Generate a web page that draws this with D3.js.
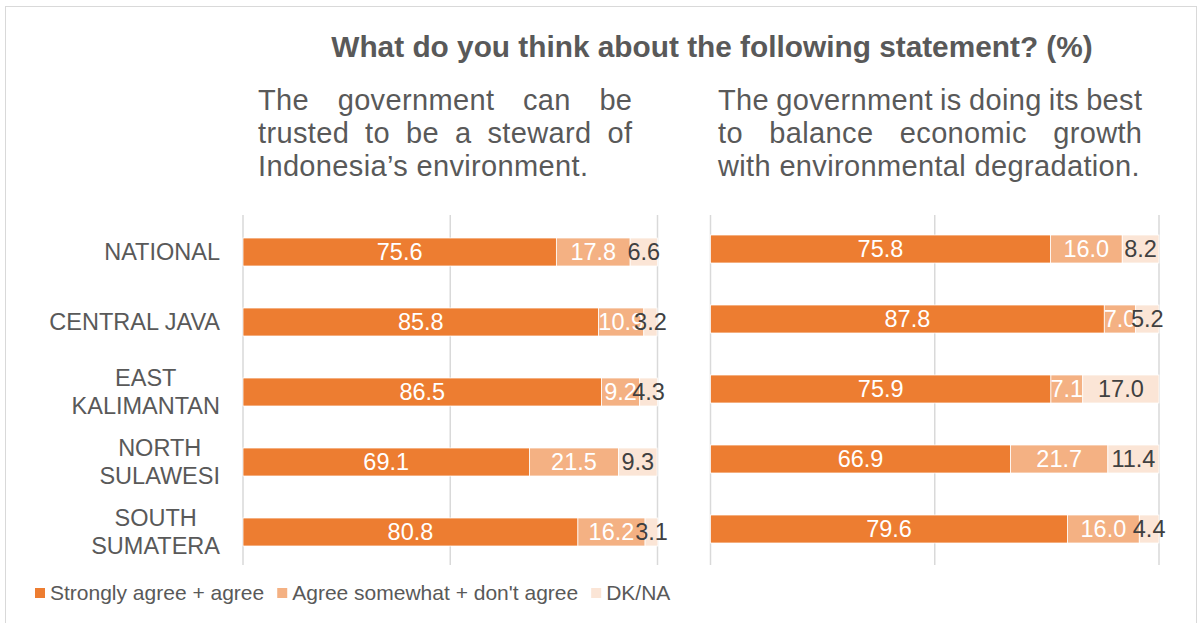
<!DOCTYPE html>
<html><head><meta charset="utf-8">
<script src="https://cdn.jsdelivr.net/npm/d3@7"></script>
<style>body{margin:0;background:#fff} svg{display:block}</style>
</head><body><div id="chart"></div>
<script>
const categories = ["NATIONAL","CENTRAL JAVA","EAST KALIMANTAN","NORTH SULAWESI","SOUTH SUMATERA"];
const categoryLines = [["NATIONAL"],["CENTRAL JAVA"],["EAST","KALIMANTAN"],["NORTH","SULAWESI"],["SOUTH","SUMATERA"]];
const seriesNames = ["Strongly agree + agree","Agree somewhat + don't agree","DK/NA"];
const seriesColors = ["#ED7D31","#F4B183","#FBE5D6"];
const labelColors = ["#FFFFFF","#FFFFFF","#404040"];

const trustAgree    = [75.6, 85.8, 86.5, 69.1, 80.8];
const trustDisagree = [17.8, 10.9,  9.2, 21.5, 16.2];
const trustDK       = [ 6.6,  3.2,  4.3,  9.3,  3.1];

const balanceAgree    = [75.8, 87.8, 75.9, 66.9, 79.6];
const balanceDisagree = [16.0,  7.0,  7.1, 21.7, 16.0];
const balanceDK       = [ 8.2,  5.2, 17.0, 11.4,  4.4];

const xTicks = [0, 50, 100];
const titleText = "What do you think about the following statement? (%)";
const leftSubtitleLines = ["The government can be", "trusted to be a steward of", "Indonesia\u2019s environment."];
const rightSubtitleLines = ["The government is doing its best", "to balance economic growth", "with environmental degradation."];

const W = 1199, H = 623;
const FONT = "'Liberation Sans', Arial, sans-serif";
const GREY = "#595959";

const svg = d3.select("#chart").append("svg").attr("width", W).attr("height", H)
  .style("font-family", FONT);

// outer border
svg.append("rect").attr("x", 5.5).attr("y", 6.5).attr("width", 1191).attr("height", 630)
  .attr("fill", "#fff").attr("stroke", "#D9D9D9").attr("stroke-width", 1);

// title
svg.append("text").attr("x", 712).attr("y", 57).attr("text-anchor", "middle")
  .attr("font-size", 29.8).attr("font-weight", "bold").attr("fill", GREY).text(titleText);

function justified(lines, x0, x1, baseline, lh, fs, ls) {
  const g = svg.append("g").attr("font-size", fs).attr("fill", GREY).attr("letter-spacing", ls);
  lines.forEach((line, i) => {
    const words = line.split(" ");
    const y = baseline + i * lh;
    const nodes = words.map(w => g.append("text").attr("y", y).text(w));
    const widths = nodes.map(n => n.node().getComputedTextLength());
    const total = d3.sum(widths);
    const last = i === lines.length - 1;
    const spaceW = fs * 0.278 + ls;
    const gap = (last || words.length < 2) ? spaceW : (x1 - x0 - total + ls) / (words.length - 1);
    let x = x0;
    nodes.forEach((n, k) => { n.attr("x", x); x += widths[k] + gap; });
  });
}

function panel(cfg) {
  const x = d3.scaleLinear().domain([0, 100]).range([cfg.x0, cfg.x1]);
  const y = d3.scaleBand().domain(categories).range([cfg.y0, cfg.y0 + 350])
    .paddingInner(0.6).paddingOuter(0.3);
  const g = svg.append("g");
  g.selectAll("line.grid").data(xTicks).enter().append("line")
    .attr("x1", d => x(d)).attr("x2", d => x(d))
    .attr("y1", 215).attr("y2", 565)
    .attr("stroke", "#D9D9D9").attr("stroke-width", 1.5);
  const rows = categories.map((c, i) => ({cat: c, vals: cfg.series.map(s => s[i])}));
  const segs = rows.map(r => {
    let acc = 0;
    return r.vals.map((v, k) => { const s = {cat: r.cat, k, v, a: acc, b: acc + v}; acc += v; return s; });
  }).flat();
  for (let k = 0; k < 3; k++) {
    g.selectAll("rect.s" + k).data(segs.filter(s => s.k === k)).enter().append("rect")
      .attr("x", d => x(d.a)).attr("width", d => x(d.b) - x(d.a))
      .attr("y", d => y(d.cat)).attr("height", y.bandwidth())
      .attr("fill", seriesColors[k]).attr("stroke", "#fff").attr("stroke-width", 0.75);
  }
  for (let k = 0; k < 3; k++) {
    g.selectAll("text.l" + k).data(segs.filter(s => s.k === k)).enter().append("text")
      .attr("x", d => (x(d.a) + x(d.b)) / 2)
      .attr("y", d => y(d.cat) + y.bandwidth() / 2 + 8.3)
      .attr("text-anchor", "middle").attr("font-size", 23.5)
      .attr("fill", labelColors[k]).text(d => d3.format(".1f")(d.v));
  }
  if (cfg.showCats) {
    categories.forEach((c, i) => {
      const lines = categoryLines[i];
      const cy = y(c) + y.bandwidth() / 2;
      if (lines.length === 1) {
        g.append("text").attr("x", 220).attr("y", cy + 8.3).attr("text-anchor", "end")
          .attr("font-size", 23.5).attr("fill", GREY).text(lines[0]);
      } else {
        const ts = lines.map((l, j) => g.append("text").attr("y", cy + 8.3 + (j - 0.5) * 28)
          .attr("text-anchor", "middle").attr("font-size", 23.5).attr("fill", GREY).text(l));
        const mw = d3.max(ts, t => t.node().getComputedTextLength());
        ts.forEach(t => t.attr("x", 220 - mw / 2));
      }
    });
  }
  justified(cfg.subtitle, cfg.sx0, cfg.sx1, 110, 33, 29, 0.35);
}

panel({x0: 243, x1: 657.5, y0: 217, series: [trustAgree, trustDisagree, trustDK],
  subtitle: leftSubtitleLines, sx0: 258, sx1: 632, showCats: true});
panel({x0: 710.5, x1: 1159, y0: 214, series: [balanceAgree, balanceDisagree, balanceDK],
  subtitle: rightSubtitleLines, sx0: 718, sx1: 1142, showCats: false});

// legend
const lg = svg.append("g").attr("font-size", 21).attr("fill", GREY);
let lx = 35;
seriesNames.forEach((n, k) => {
  lg.append("rect").attr("x", lx).attr("y", 588).attr("width", 10).attr("height", 10).attr("fill", seriesColors[k]);
  const t = lg.append("text").attr("x", lx + 15).attr("y", 600).text(n);
  lx += 15 + t.node().getComputedTextLength() + 13;
});
</script></body></html>
